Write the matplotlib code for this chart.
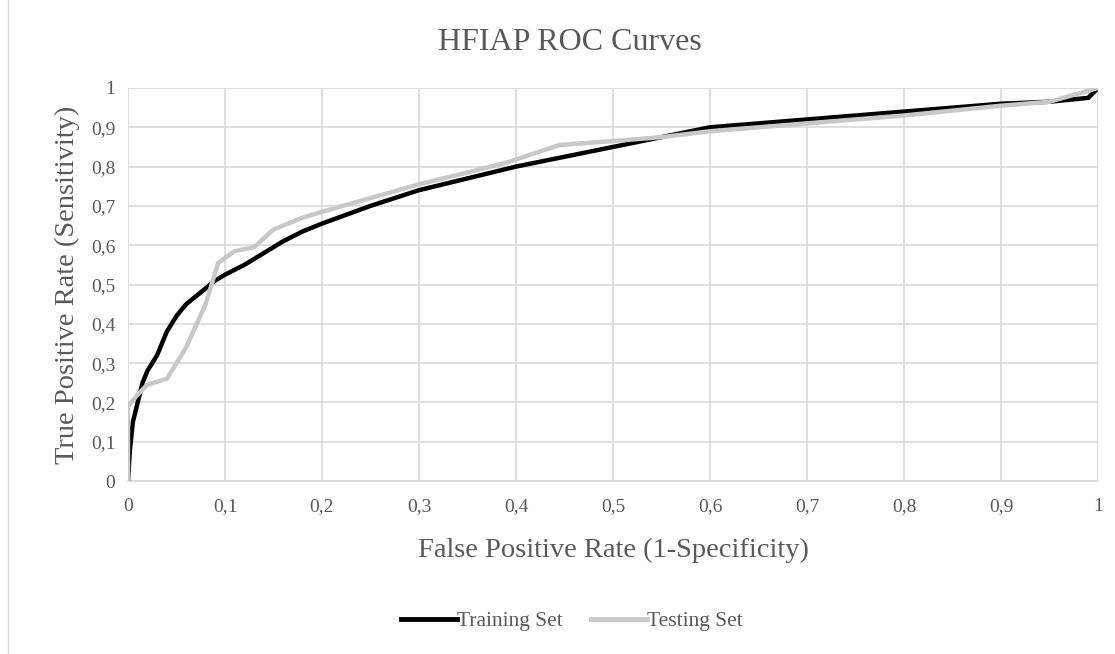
import matplotlib
matplotlib.use("Agg")
import matplotlib.pyplot as plt
from matplotlib.lines import Line2D

train_fpr = [0, 0.002, 0.005, 0.01, 0.015, 0.02, 0.025, 0.03, 0.035, 0.04, 0.05, 0.06, 0.07,
             0.08, 0.09, 0.1, 0.12, 0.14, 0.16, 0.18, 0.2, 0.25, 0.3, 0.35, 0.4, 0.45, 0.5,
             0.55, 0.6, 0.7, 0.8, 0.9, 0.95, 0.99, 1.0]
train_tpr = [0, 0.08, 0.15, 0.2, 0.25, 0.28, 0.3, 0.32, 0.35, 0.38, 0.42, 0.45, 0.47,
             0.49, 0.51, 0.525, 0.55, 0.58, 0.61, 0.635, 0.655, 0.7, 0.74, 0.77, 0.8, 0.825, 0.85,
             0.875, 0.9, 0.92, 0.94, 0.96, 0.965, 0.975, 1.0]

test_fpr = [0, 0, 0.01, 0.02, 0.04, 0.06, 0.08, 0.093, 0.11, 0.13, 0.15, 0.18, 0.2, 0.25,
            0.3, 0.35, 0.39, 0.445, 0.5, 0.55, 0.6, 0.7, 0.8, 0.9, 0.95, 1.0]
test_tpr = [0, 0.19, 0.22, 0.245, 0.26, 0.34, 0.45, 0.555, 0.585, 0.595, 0.64, 0.67, 0.685, 0.72,
            0.755, 0.785, 0.81, 0.855, 0.865, 0.875, 0.89, 0.91, 0.93, 0.955, 0.965, 1.0]

ticks = [0, 0.1, 0.2, 0.3, 0.4, 0.5, 0.6, 0.7, 0.8, 0.9, 1.0]
tick_labels = ["0", "0,1", "0,2", "0,3", "0,4", "0,5", "0,6", "0,7", "0,8", "0,9", "1"]

TXT = "#595959"
GRID = "#D9D9D9"
plt.rcParams['font.family'] = ['Liberation Serif', 'DejaVu Serif']

fig = plt.figure(figsize=(11.15, 6.54), dpi=100)
ax = fig.add_axes([128/1115, 1-481/654, 970/1115, 393/654])

ax.plot(train_fpr, train_tpr, color="black", lw=3.2, solid_joinstyle="round", zorder=3)
ax.plot(test_fpr, test_tpr, color="#C8C8C8", lw=3.2, solid_joinstyle="round", zorder=4)

ax.set_xlim(0, 1)
ax.set_ylim(0, 1)
ax.set_xticks(ticks)
ax.set_yticks(ticks)
ax.set_xticklabels(tick_labels)
ax.set_yticklabels(tick_labels)
ax.grid(True, color=GRID, lw=1.2)
ax.set_axisbelow(True)
for s in ["top", "right", "left"]:
    ax.spines[s].set_visible(False)
ax.spines["bottom"].set_color(GRID)
ax.spines["bottom"].set_linewidth(1.2)
ax.tick_params(length=0, labelsize=14, colors=TXT, pad=12)
ax.tick_params(axis="y", pad=9)

ax.set_xlabel("False Positive Rate (1-Specificity)", fontsize=20.5, color=TXT, labelpad=17)
ax.set_ylabel("True Positive Rate (Sensitivity)", fontsize=20.5, color=TXT, labelpad=8)
fig.text(570/1115, 1-42/654, "HFIAP ROC Curves", ha="center", va="center", fontsize=23, color=TXT)

handles = [Line2D([], [], color="black", lw=3.5), Line2D([], [], color="#C8C8C8", lw=3.5)]
fig.legend(handles, ["Training Set", "Testing Set"], loc="center", bbox_to_anchor=(572/1115, 1-621/654),
           ncol=2, frameon=False, fontsize=15.5, labelcolor=TXT, handlelength=2.6, handletextpad=0.0,
           columnspacing=1.3)

fig.add_artist(Line2D([8/1115, 8/1115], [0, 1], color=GRID, lw=1, transform=fig.transFigure))

fig.savefig("out.png", dpi=100)
